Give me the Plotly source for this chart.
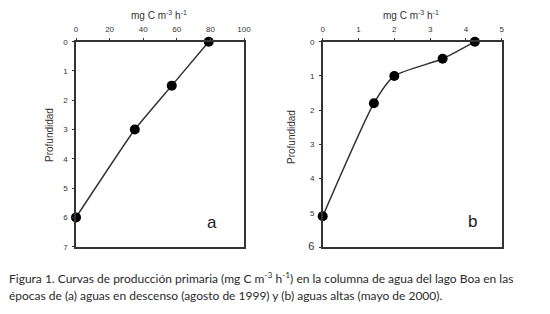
import plotly.graph_objects as go

# Panel a data
a_prod = [79, 57, 35, 0]
a_depth = [0, 1.5, 3, 6]
# Panel b data
b_prod = [4.25, 3.35, 2.0, 1.43, 0]
b_depth = [0, 0.5, 1.0, 1.8, 5.1]

a_xticks = [0, 20, 40, 60, 80, 100]
a_yticks = [0, 1, 2, 3, 4, 5, 6, 7]
b_xticks = [0, 1, 2, 3, 4, 5]
b_yticks = [0, 1, 2, 3, 4, 5, 6]

x_title = "mg C m<sup>-3</sup> h<sup>-1</sup>"
y_title = "Profundidad"
caption1 = "Figura 1. Curvas de producción primaria (mg C m<sup>-3</sup> h<sup>-1</sup>) en la columna de agua del lago Boa en las"
caption2 = "épocas de (a) aguas en descenso (agosto de 1999) y (b) aguas altas (mayo de 2000)."

W, H = 550, 314
INK = "#333333"

fig = go.Figure()
fig.add_trace(go.Scatter(x=a_prod, y=a_depth, mode="lines+markers",
                         line=dict(color=INK, width=1.5, shape="spline", smoothing=0.4),
                         marker=dict(color="black", size=10),
                         xaxis="x", yaxis="y", showlegend=False, cliponaxis=False))
fig.add_trace(go.Scatter(x=b_prod, y=b_depth, mode="lines+markers",
                         line=dict(color=INK, width=1.5, shape="spline", smoothing=0.6),
                         marker=dict(color="black", size=10),
                         xaxis="x2", yaxis="y2", showlegend=False, cliponaxis=False))

def px(x):
    return x / W

def py(y):
    return 1 - y / H

tickfont = dict(family="Liberation Sans", size=8, color=INK)
axis_common = dict(showgrid=False, zeroline=False, showline=True, linecolor=INK,
                   linewidth=1.5, mirror=True, ticks="outside", ticklen=2,
                   tickcolor=INK, tickwidth=1, tickfont=tickfont, automargin=False)

b_ytext = [str(v) for v in b_yticks[:-1]] + ["<span style='font-size:11px'>%d</span>" % b_yticks[-1]]

fig.update_layout(
    width=W, height=H, margin=dict(l=0, r=0, t=0, b=0),
    paper_bgcolor="white", plot_bgcolor="white",
    xaxis=dict(domain=[px(76), px(244)], range=[0, 100], side="top", anchor="y",
               tickvals=a_xticks, ticklabelstandoff=3, **axis_common),
    yaxis=dict(domain=[py(246.7), py(41.7)], range=[7, 0], anchor="x",
               tickvals=a_yticks, ticklabelstandoff=3, **axis_common),
    xaxis2=dict(domain=[px(322.7), px(501.7)], range=[0, 5], side="top", anchor="y2",
                tickvals=b_xticks, ticklabelstandoff=3, **axis_common),
    yaxis2=dict(domain=[py(247), py(41.7)], range=[6, 0], anchor="x2",
                tickvals=b_yticks, ticktext=b_ytext, ticklabelstandoff=3, **axis_common),
)

ann = []
tf = dict(family="Liberation Sans", size=10, color=INK)
yf = dict(family="Liberation Sans", size=10, color=INK)
ann.append(dict(x=px(159), y=py(15), xref="paper", yref="paper", text=x_title,
                showarrow=False, font=tf, xanchor="center", yanchor="middle"))
ann.append(dict(x=px(411), y=py(15), xref="paper", yref="paper", text=x_title,
                showarrow=False, font=tf, xanchor="center", yanchor="middle"))
ann.append(dict(x=px(49), y=py(135), xref="paper", yref="paper", text=y_title,
                showarrow=False, font=yf, textangle=-90, xanchor="center", yanchor="middle"))
ann.append(dict(x=px(291), y=py(137), xref="paper", yref="paper", text=y_title,
                showarrow=False, font=yf, textangle=-90, xanchor="center", yanchor="middle"))
lf = dict(family="Liberation Sans", size=17, color="#222222")
ann.append(dict(x=px(211.5), y=py(223), xref="paper", yref="paper", text="a",
                showarrow=False, font=lf, xanchor="center", yanchor="middle"))
ann.append(dict(x=px(472), y=py(222), xref="paper", yref="paper", text="b",
                showarrow=False, font=lf, xanchor="center", yanchor="middle"))
cf = dict(family="Lato", size=12, color="#2a2a2a")
ann.append(dict(x=px(7), y=py(278), xref="paper", yref="paper", text=caption1,
                showarrow=False, font=cf, xanchor="left", yanchor="middle"))
ann.append(dict(x=px(7), y=py(295), xref="paper", yref="paper", text=caption2,
                showarrow=False, font=cf, xanchor="left", yanchor="middle"))
fig.update_layout(annotations=ann)

fig.write_html("out.html", config={"displayModeBar": False},
               post_script="document.body.style.margin='0';document.body.style.padding='0';")
